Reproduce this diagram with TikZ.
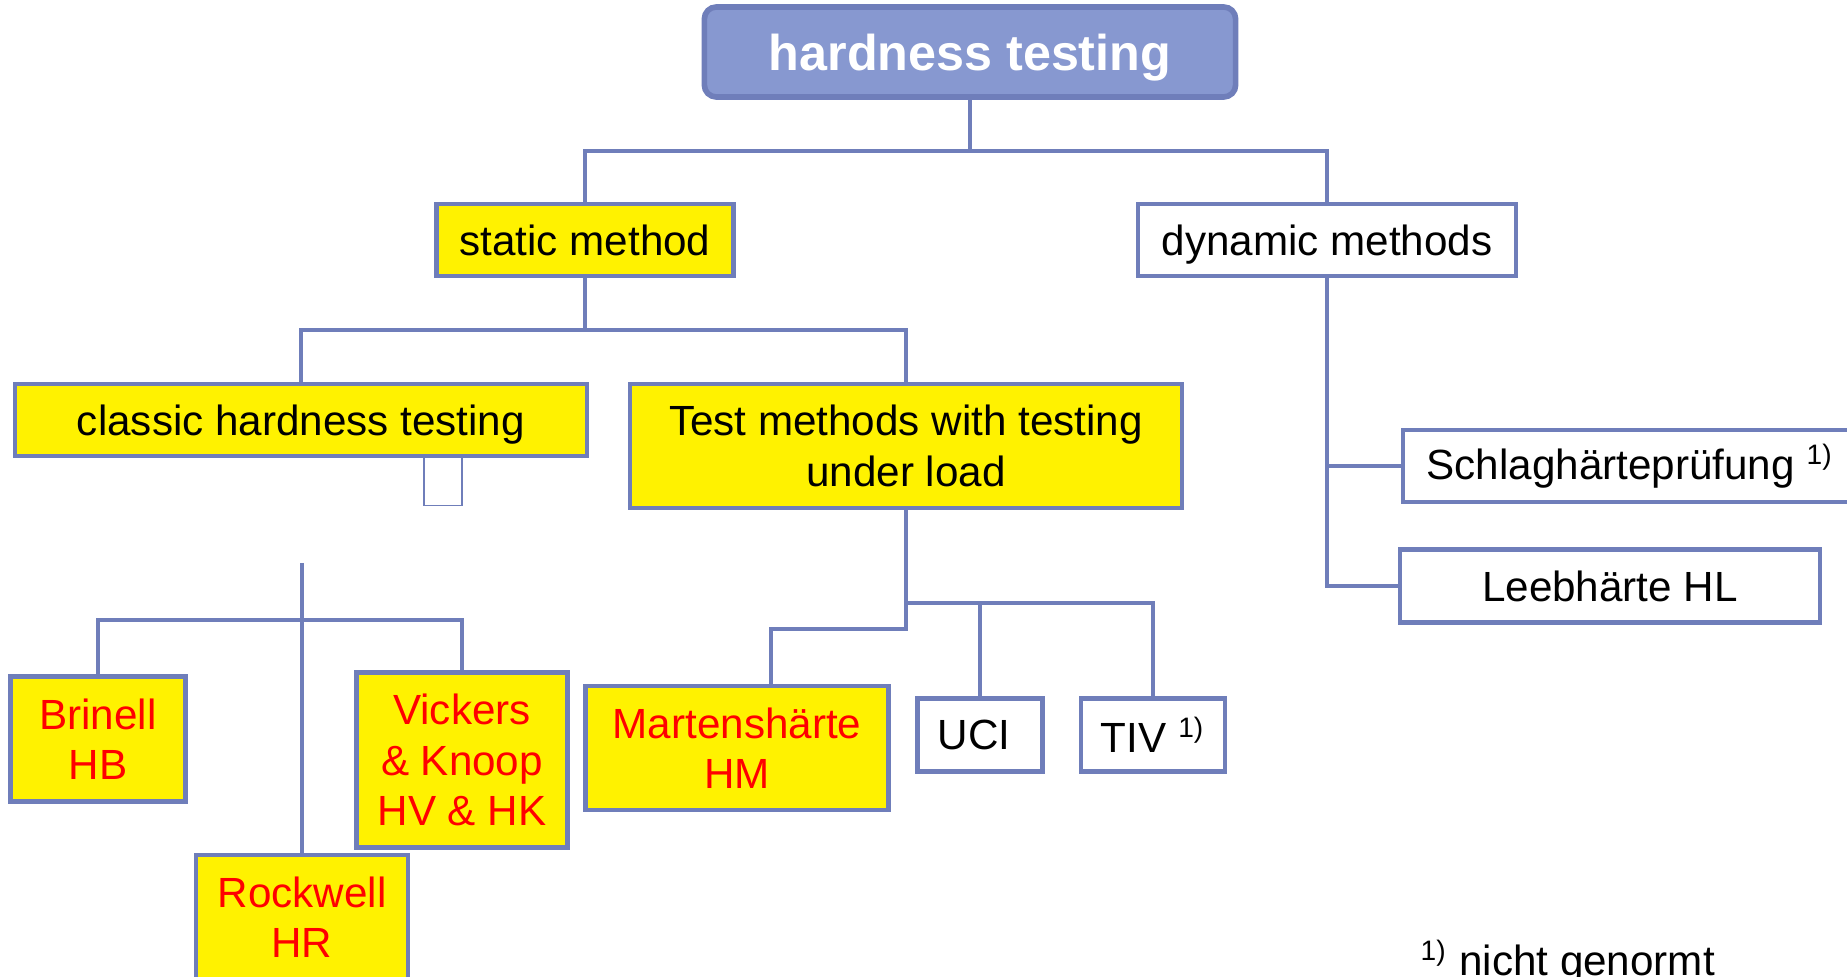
\documentclass[tikz,border=0pt]{standalone}
\usepackage{fontspec}
\setmainfont{Liberation Sans}
\definecolor{frame}{RGB}{111,126,186}
\definecolor{head}{RGB}{135,152,208}
\begin{document}
\begin{tikzpicture}[x=0.01cm,y=-0.01cm,
  box/.style={draw=frame,line width=1.2pt,fill=white,inner sep=0pt,align=center,font=\fontsize{12}{14.3}\selectfont},
  flat/.style={text depth=0pt},
  hard/.style={box,fill=yellow},
  method/.style={hard,text=red},
  link/.style={draw=frame,line width=1.2pt}]
\useasboundingbox (0,0) rectangle (1847,977);
\node[box,flat,fill=head,rounded corners=0.12cm,line width=1.6pt,minimum width=5.31cm,minimum height=0.9cm,text=white,font=\fontsize{14.3}{17}\selectfont\bfseries](root) at (970,52){hardness testing};
\node[hard,flat,minimum width=2.97cm,minimum height=0.72cm](static) at (585,240){static method};
\node[box,flat,minimum width=3.78cm,minimum height=0.72cm](dynamic) at (1327,240){dynamic methods};
\node[hard,flat,minimum width=5.71cm,minimum height=0.72cm](classic) at (301,420){classic hardness testing};
\node[hard,minimum width=5.52cm,minimum height=1.24cm](load) at (906,446){Test methods with testing\\under load};
\node[draw=frame,line width=0.5pt,minimum width=0.38cm,minimum height=0.49cm,inner sep=0pt](gap) at (443,481){};
\node[box,minimum width=4.54cm,minimum height=0.72cm](schlag) at (1630,466){Schlaghärteprüfung \textsuperscript{1)}};
\node[box,minimum width=4.19cm,minimum height=0.73cm](leeb) at (1610,586){Leebhärte HL};
\node[method,minimum width=1.75cm,minimum height=1.25cm](brinell) at (98,739){Brinell\\HB};
\node[method,minimum width=2.12cm,minimum height=1.24cm](rockwell) at (302,917){Rockwell\\HR};
\node[method,minimum width=2.11cm,minimum height=1.75cm](vickers) at (462,760){Vickers\\\& Knoop\\HV \& HK};
\node[method,minimum width=3.03cm,minimum height=1.24cm](martens) at (737,748){Martenshärte\\HM};
\node[box,minimum width=1.25cm,minimum height=0.73cm](uci) at (980,735){UCI\hspace{0.12cm}};
\node[box,minimum width=1.44cm,minimum height=0.73cm](tiv) at (1153,735){TIV \textsuperscript{1)}};
\node[anchor=base west,inner sep=0pt,font=\fontsize{12}{14}\selectfont](note) at (1420,976){\textsuperscript{1)} nicht genormt};
\coordinate (j1) at (970,151);
\coordinate (j2) at (585,330);
\coordinate (j3) at (906,629);
\coordinate (j4) at (906,603);
\coordinate (j5) at (302,563);
\coordinate (j6) at (302,620);
\draw[link](root)--(j1);
\draw[link](static.north)|-(j1)-|(dynamic.north);
\draw[link](static)--(j2);
\draw[link](classic.north)|-(j2)-|(load.north);
\draw[link](dynamic.south)|-(leeb.west);
\draw[link](dynamic.south|-schlag.west)--(schlag.west);
\draw[link](load.south)--(j3)-|([xshift=0.34cm]martens.north);
\draw[link](j4)-|(uci.north);
\draw[link](uci.north|-j4)-|(tiv.north);
\draw[link](j5)--(rockwell.north);
\draw[link](brinell.north)|-(j6)-|(vickers.north);
\end{tikzpicture}
\end{document}
